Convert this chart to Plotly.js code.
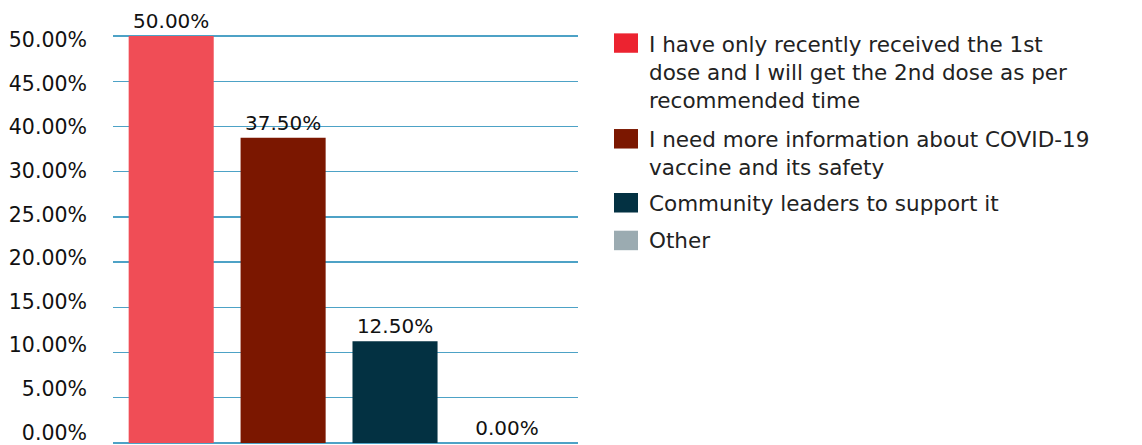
<!DOCTYPE html>
<html>
<head>
<meta charset="utf-8">
<script src="https://cdn.plot.ly/plotly-3.0.1.min.js"></script>
<style>html,body{margin:0;padding:0;background:#fff;overflow:hidden;}#chart{width:1142px;height:455px;}</style>
</head>
<body>
<div id="chart"></div>
<script>
// ---- data ----
const categories = [
  'I have only recently received the 1st<br>dose and I will get the 2nd dose as per<br>recommended time',
  'I need more information about COVID-19<br>vaccine and its safety',
  'Community leaders to support it',
  'Other'
];
const values = [50, 37.5, 12.5, 0];
const valueLabels = ['50.00%', '37.50%', '12.50%', '0.00%'];
const barColors = ['#F04D56', '#7B1700', '#033142', '#9BABB1'];
const legendColors = ['#EC2330', '#7B1700', '#033142', '#9BABB1'];
const yTickLabels = ['0.00%', '5.00%', '10.00%', '15.00%', '20.00%', '25.00%', '30.00%', '40.00%', '45.00%', '50.00%'];
const yMax = 50;

// ---- layout helpers ----
const W = 1142, H = 455;           // drawn a little taller than the 445px window
const PAD = 0.5;                   // range padding so edge gridlines are kept
const TOP = 36, BOT = 443;         // pixel rows of the 50% and 0% gridlines
const LTOP = 40, LBOT = 432.5;     // pixel rows where the top / bottom tick labels sit
const scale = (BOT - TOP) / yMax;
const M = {l: 113, r: 564, t: TOP - PAD * scale, b: H - BOT - PAD * scale};
const plotW = W - M.l - M.r, plotH = H - M.t - M.b;
const px2x = p => (p - M.l) / plotW;
const px2y = p => (H - M.b - p) / plotH;
const px2v = p => (BOT - p) / scale;

const FONT = '"DejaVu Sans", "Open Sans", sans-serif';

const n = yTickLabels.length;
// gridlines: evenly spaced over 0..yMax
const gridvals = yTickLabels.map((_, i) => i * yMax / (n - 1));
// tick labels: evenly spaced where the reference prints them (slightly inset)
const labelLo = px2v(LBOT), labelHi = px2v(LTOP);
const labelvals = yTickLabels.map((_, i) => labelLo + i * (labelHi - labelLo) / (n - 1));
const ticktext = yTickLabels.map(s => s.padStart(6, '\u2007'));

const trace = {
  type: 'bar',
  x: categories,
  y: values,
  text: valueLabels,
  textposition: 'outside',
  cliponaxis: false,
  textfont: {family: FONT, size: 20, color: '#111'},
  marker: {color: barColors},
  hoverinfo: 'skip',
  showlegend: false
};

// custom legend (squares + text), built from the category array
const legendSquares = [[33.3, 52.7], [129, 148.5], [193, 212.5], [230.7, 250.2]];
const legendCenters = [72.5, 153, 203.5, 240.5];
const shapes = [];
const annotations = [];
categories.forEach((c, i) => {
  shapes.push({
    type: 'rect', xref: 'paper', yref: 'paper',
    x0: px2x(614), x1: px2x(638),
    y0: px2y(legendSquares[i][1]), y1: px2y(legendSquares[i][0]),
    fillcolor: legendColors[i], line: {width: 0}
  });
  annotations.push({
    xref: 'paper', yref: 'paper', x: px2x(647), y: px2y(legendCenters[i]),
    xanchor: 'left', yanchor: 'middle', align: 'left', showarrow: false,
    text: c, font: {family: FONT, size: 21.5, color: '#222'}
  });
});

const layout = {
  width: W, height: H,
  margin: M,
  paper_bgcolor: '#fff', plot_bgcolor: '#fff',
  showlegend: false,
  bargap: 0.24,
  font: {family: FONT, color: '#111'},
  xaxis: {
    type: 'category',
    range: [-0.52, 3.635],
    showticklabels: false, ticks: '', showgrid: false, zeroline: false, showline: false
  },
  yaxis: {
    range: [-PAD, yMax + PAD],
    tickmode: 'array', tickvals: labelvals, ticktext: ticktext,
    ticks: '', ticklabelstandoff: 25, ticklabeloverflow: 'allow',
    tickfont: {family: FONT, size: 20.5, color: '#111'},
    showgrid: false,
    minor: {tickmode: 'array', tickvals: gridvals, ticks: '', showgrid: true, gridcolor: '#4DA2C6', gridwidth: 1.4},
    zeroline: false, showline: false
  },
  shapes: shapes,
  annotations: annotations
};

Plotly.newPlot('chart', [trace], layout, {displayModeBar: false, staticPlot: true});
</script>
</body>
</html>
